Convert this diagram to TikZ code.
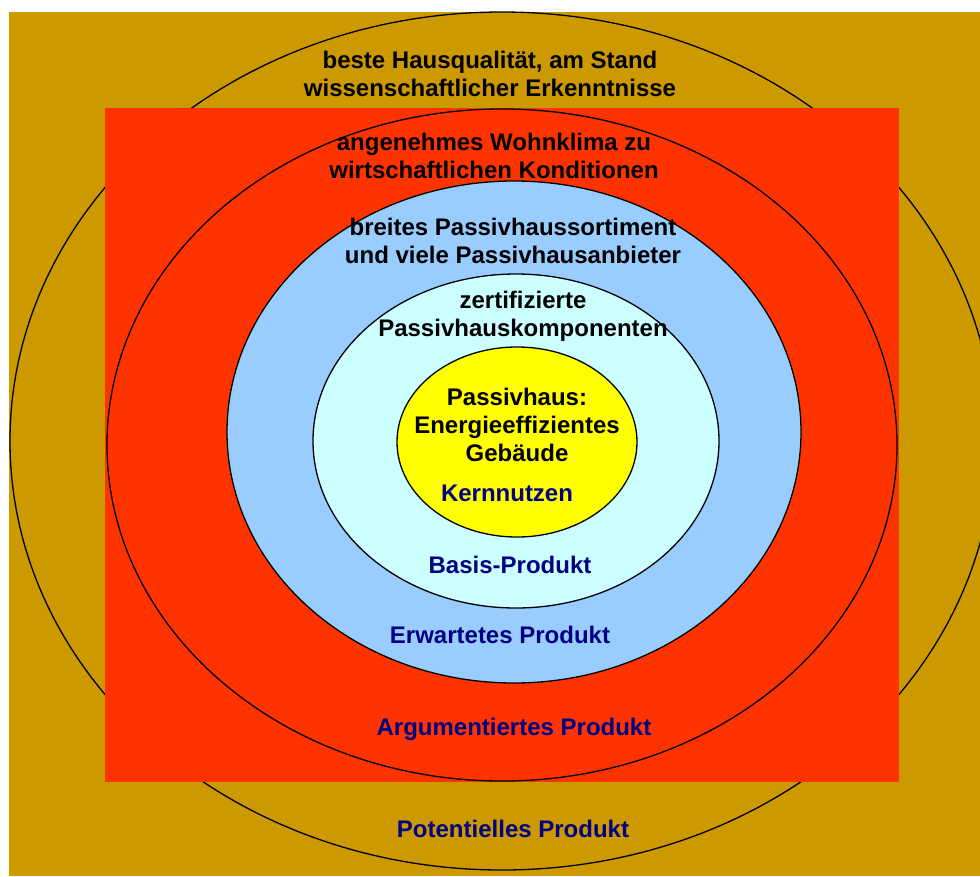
\documentclass[tikz,border=0pt]{standalone}
\usepackage{fontspec}
\setmainfont{Liberation Sans}
\definecolor{potgold}{HTML}{CC9900}
\definecolor{argred}{HTML}{FF3300}
\definecolor{erwblue}{HTML}{99CCFF}
\definecolor{basiscyan}{HTML}{CCFFFF}
\definecolor{kernyellow}{HTML}{FFFF00}
\definecolor{tagnavy}{HTML}{000080}

\begin{document}
\begin{tikzpicture}[x=1pt, y=-1pt, line width=1.3pt,
  txt/.style={align=center, inner sep=0pt, font=\bfseries\fontsize{24}{28}\selectfont},
  tag/.style={txt, text=tagnavy}]
  \useasboundingbox (0,0) rectangle (980,876);
  \clip (0,0) rectangle (980,876);
  % Background field and outer ring (potential product).
  \fill[potgold] (9,12) rectangle (980,876);
  \draw (502,441) ellipse [x radius=492, y radius=429];
  % Red frame with the argued-product ring.
  \fill[argred] (105,108) rectangle (899,782);
  \draw (502,445) ellipse [x radius=395, y radius=336];
  % Inner rings, expected product down to core benefit.
  \draw[fill=erwblue] (514,432) ellipse [x radius=287, y radius=251];
  \draw[fill=basiscyan] (516,441) ellipse [x radius=203, y radius=167];
  \draw[fill=kernyellow] (517,442) ellipse [x radius=120, y radius=95];
  % Ring texts.
  \node[txt] (beste) at (490,74) {beste Hausqualität, am Stand\\wissenschaftlicher Erkenntnisse};
  \node[txt] (klima) at (494,156) {angenehmes Wohnklima zu\\wirtschaftlichen Konditionen};
  \node[txt] (sortiment) at (513,241) {breites Passivhaussortiment\\und viele Passivhausanbieter};
  \node[txt] (zert) at (523,316) {zertifizierte\\Passivhauskomponenten};
  \node[txt] (kern) at (517,425) {Passivhaus:\\Energieeffizientes\\Gebäude};
  % Ring names.
  \node[tag] (kerntag) at (507,493) {Kernnutzen};
  \node[tag] (basis) at (510,565) {Basis-Produkt};
  \node[tag] (erw) at (500,635) {Erwartetes Produkt};
  \node[tag] (arg) at (514,729) {Argumentiertes Produkt};
  \node[tag] (pot) at (513,829) {Potentielles Produkt};
\end{tikzpicture}
\end{document}
